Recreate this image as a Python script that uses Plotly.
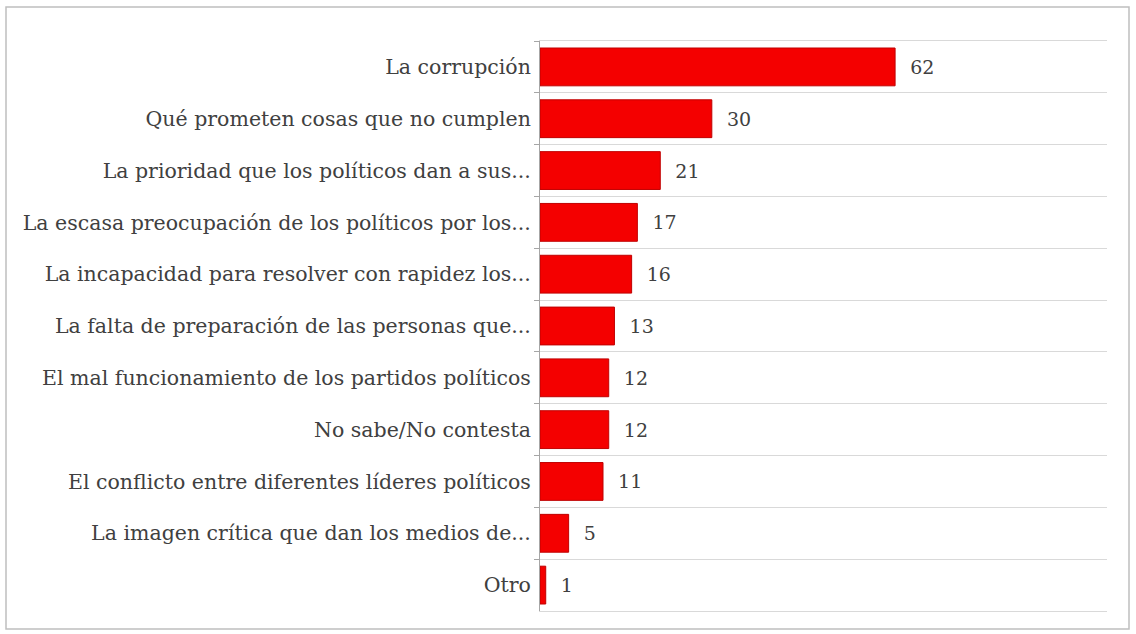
import plotly.graph_objects as go

categories = [
    "La corrupción",
    "Qué prometen cosas que no cumplen",
    "La prioridad que los políticos dan a sus...",
    "La escasa preocupación de los políticos por los...",
    "La incapacidad para resolver con rapidez los...",
    "La falta de preparación de las personas que...",
    "El mal funcionamiento de los partidos políticos",
    "No sabe/No contesta",
    "El conflicto entre diferentes líderes políticos",
    "La imagen crítica que dan los medios de...",
    "Otro",
]
values = [62, 30, 21, 17, 16, 13, 12, 12, 11, 5, 1]

W, H = 1136, 634
ml, mr, mt, mb = 540, 29, 41, 23
pw, ph = W - ml - mr, H - mt - mb

fig = go.Figure(go.Bar(
    x=values,
    y=categories,
    orientation="h",
    marker=dict(color="#F40000", line=dict(color="#C00000", width=1)),
    text=values,
    texttemplate="\u00a0\u00a0%{text}",
    textposition="outside",
    textfont=dict(family="DejaVu Serif", size=19, color="#404040"),
    cliponaxis=False,
    hoverinfo="skip",
))

def px_to_paper_x(px):
    return (px - ml) / pw

def px_to_paper_y(py):
    return 1 - (py - mt) / ph

fig.update_layout(
    width=W, height=H,
    margin=dict(l=ml, r=mr, t=mt, b=mb),
    paper_bgcolor="white",
    plot_bgcolor="white",
    showlegend=False,
    bargap=0.27,
    font=dict(family="DejaVu Serif", color="#404040"),
    xaxis=dict(
        range=[0, 99],
        showticklabels=False,
        showgrid=False,
        zeroline=False,
        showline=True, mirror=True, linecolor="#D9D9D9", linewidth=1,
        ticks="",
    ),
    yaxis=dict(
        autorange="reversed",
        type="category",
        tickson="boundaries",
        ticks="outside", ticklen=5, tickcolor="#A6A6A6",
        showgrid=True, gridcolor="#D9D9D9", gridwidth=1,
        showline=True, linecolor="#A6A6A6", linewidth=1,
        tickfont=dict(family="DejaVu Serif", size=20.5, color="#404040"),
        ticklabelstandoff=4,
    ),
    shapes=[dict(
        type="rect", xref="paper", yref="paper",
        x0=px_to_paper_x(6), x1=px_to_paper_x(1129),
        y0=px_to_paper_y(629), y1=px_to_paper_y(7),
        line=dict(color="#BFBFBF", width=1.5),
        fillcolor="rgba(0,0,0,0)",
        layer="below",
    )],
)

fig.write_html("out.html")
